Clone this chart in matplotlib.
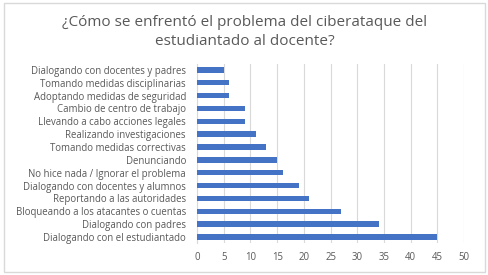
import matplotlib.pyplot as plt
from matplotlib.patches import Rectangle

categories = [
    'Dialogando con docentes y padres',
    'Tomando medidas disciplinarias',
    'Adoptando medidas de seguridad',
    'Cambio de centro de trabajo',
    'Llevando a cabo acciones legales',
    'Realizando investigaciones',
    'Tomando medidas correctivas',
    'Denunciando',
    'No hice nada / Ignorar el problema',
    'Dialogando con docentes y alumnos',
    'Reportando a las autoridades',
    'Bloqueando a los atacantes o cuentas',
    'Dialogando con padres',
    'Dialogando con el estudiantado',
]
values = [5, 6, 6, 9, 9, 11, 13, 15, 16, 19, 21, 27, 34, 45]
xticks = list(range(0, 55, 5))

text_color = '#595959'
plt.rcParams['font.family'] = ['Open Sans', 'DejaVu Sans']

fig = plt.figure(figsize=(4.89, 2.75), dpi=100)
ax = fig.add_axes([0.403, 0.115, 0.546, 0.654])

# first category at the top
y = list(range(len(categories)))[::-1]
ax.barh(y, values, height=0.42, color='#4472C4', zorder=3)

ax.set_yticks(y)
ax.set_yticklabels(categories, fontsize=6.9, color=text_color)
ax.set_xticks(xticks)
ax.set_xticklabels([str(t) for t in xticks], fontsize=6.9, color=text_color)
ax.set_xlim(0, 50)
ax.set_ylim(-0.5, len(categories) - 0.5)
ax.tick_params(axis='y', length=0, pad=8)
ax.tick_params(axis='x', length=0, pad=6)
ax.xaxis.grid(True, color='#D9D9D9', linewidth=0.8, zorder=0)
for s in ['top', 'right', 'bottom']:
    ax.spines[s].set_visible(False)
ax.spines['left'].set_color('#D9D9D9')

fig.text(0.5, 0.885, '¿Cómo se enfrentó el problema del ciberataque del\nestudiantado al docente?',
         ha='center', va='center', fontsize=11, color=text_color, linespacing=1.35)

fig.patches.append(Rectangle((0.008, 0.012), 0.984, 0.976, transform=fig.transFigure,
                             fill=False, edgecolor='#D9D9D9', linewidth=1))

fig.savefig('out.png', dpi=100)
